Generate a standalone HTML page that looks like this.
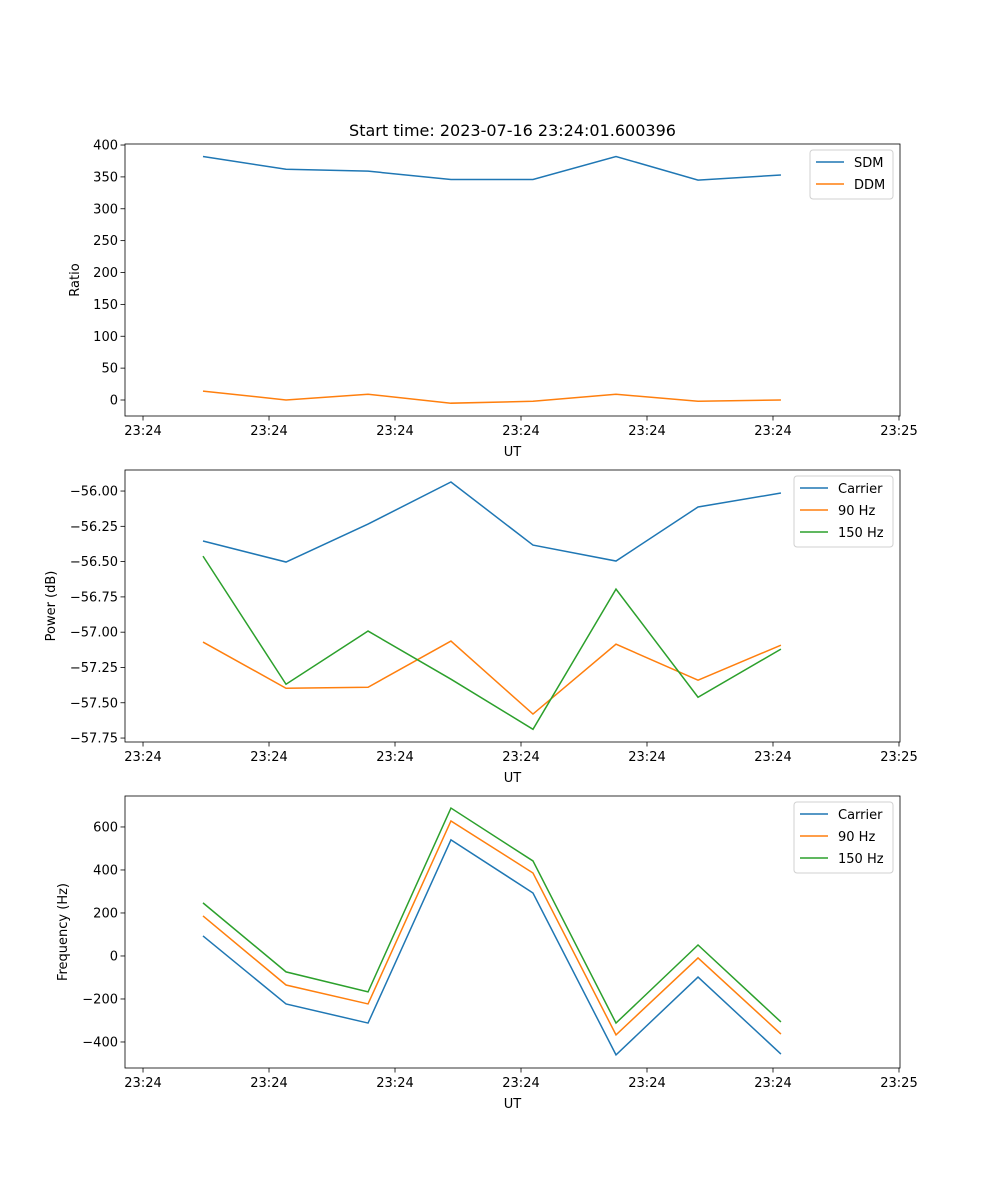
<!DOCTYPE html>
<html><head><meta charset="utf-8"><style>
html,body{margin:0;padding:0;background:#fff;}
svg{display:block;font-family:"DejaVu Sans","Liberation Sans",sans-serif;}
</style></head><body>
<svg id="fig" width="1000" height="1200" viewBox="0 0 1000 1200" xmlns="http://www.w3.org/2000/svg">
<rect width="1000" height="1200" fill="#fff"/>
<text x="512.5" y="136" font-size="16" text-anchor="middle">Start time: 2023-07-16 23:24:01.600396</text>
</svg>
<script>
// x values: seconds after 23:24:00
const times = [4.76, 11.35, 17.86, 24.44, 30.95, 37.54, 44.05, 50.63];
const xTickVals = [0, 10, 20, 30, 40, 50, 60];
const xTickLabels = ["23:24","23:24","23:24","23:24","23:24","23:24","23:25"];
const sdm = [382, 362, 359, 346, 346, 382, 345, 353];
const ddm = [14, 0, 9, -5, -2, 9, -2, 0];
const ratioTicks = [0, 50, 100, 150, 200, 250, 300, 350, 400];
const pCarrier = [-56.354, -56.503, -56.234, -55.936, -56.383, -56.496, -56.113, -56.014];
const p90 = [-57.07, -57.397, -57.39, -57.063, -57.58, -57.085, -57.34, -57.092];
const p150 = [-56.461, -57.369, -56.992, -57.333, -57.688, -56.695, -57.461, -57.12];
const powerTicks = [-56.00, -56.25, -56.50, -56.75, -57.00, -57.25, -57.50, -57.75];
const fCarrier = [93, -223, -312, 540, 293, -460, -98, -456];
const f90 = [186, -135, -223, 628, 386, -367, -9, -363];
const f150 = [247, -74, -167, 688, 442, -312, 51, -307];
const freqTicks = [-400, -200, 0, 200, 400, 600];

const NS = "http://www.w3.org/2000/svg";
const svg = document.getElementById('fig');
function mk(tag, attrs, parent){const e=document.createElementNS(NS,tag);for(const k in attrs)e.setAttribute(k,attrs[k]);(parent||svg).appendChild(e);return e;}
const X0=125,X1=900,XMIN=-1.43,XMAX=60.08;
const xs=v=>X0+(v-XMIN)/(XMAX-XMIN)*(X1-X0);
const C={blue:"#1f77b4",orange:"#ff7f0e",green:"#2ca02c"};

function panel(name, top, ymin, ymax, ticks, fmt, ylabel, ylabX, series, legend){
  const bot=top+272;
  const ys=v=>bot-(v-ymin)/(ymax-ymin)*272;
  const g=mk('g',{});
  
  
  series.forEach(s=>{
    const p=mk('polyline',{points:times.map((t,i)=>xs(t)+','+ys(s.vals[i])).join(' '),fill:'none',stroke:s.color,'stroke-width':1.5},g);
    
    
  });
  const fr=mk('rect',{x:X0,y:top,width:X1-X0,height:272,fill:'none',stroke:'#000','stroke-width':0.8},g);
  
  
  xTickVals.forEach((v,i)=>{
    const x=xs(v);
    mk('line',{x1:x,x2:x,y1:bot,y2:bot+4.5,stroke:'#000','stroke-width':0.8},g);
    const t=mk('text',{x:x,y:bot+19,'font-size':13,'text-anchor':'middle'},g);
    t.textContent=xTickLabels[i];
    
    
  });
  const xl=mk('text',{x:512.5,y:bot+40,'font-size':13,'text-anchor':'middle'},g);
  xl.textContent='UT';
  
  
  ticks.forEach(v=>{
    const y=ys(v);
    mk('line',{x1:X0-4.5,x2:X0,y1:y,y2:y,stroke:'#000','stroke-width':0.8},g);
    const t=mk('text',{x:X0-7,y:y+4.5,'font-size':13,'text-anchor':'end'},g);
    t.textContent=fmt(v);
    
    
  });
  const cy=top+136;
  const yl=mk('text',{x:ylabX,y:cy,'font-size':13,'text-anchor':'middle',transform:`rotate(-90 ${ylabX} ${cy})`},g);
  yl.textContent=ylabel;
  
  
  const lg=mk('g',{},g);
  
  
  mk('rect',{x:legend.x,y:top+6,width:legend.w,height:series.length*22+5,rx:3,fill:'#fff',stroke:'#ccc','stroke-width':1,opacity:0.9},lg);
  series.forEach((s,i)=>{
    const y=top+18+i*22;
    mk('line',{x1:legend.x+6,x2:legend.x+34,y1:y,y2:y,stroke:s.color,'stroke-width':1.5},lg);
    const t=mk('text',{x:legend.x+44,y:y+5,'font-size':13},lg);
    t.textContent=s.label;
    
    
  });
}
panel('ratio-panel',144,-25.1,401.6,ratioTicks,v=>String(v),'Ratio',79,
  [{id:'sdm-line',label:'SDM',vals:sdm,color:C.blue},{id:'ddm-line',label:'DDM',vals:ddm,color:C.orange}],{x:810,w:83});
panel('power-panel',470,-57.778,-55.851,powerTicks,v=>'\u2212'+Math.abs(v).toFixed(2),'Power (dB)',55,
  [{id:'power-carrier-line',label:'Carrier',vals:pCarrier,color:C.blue},{id:'power-90hz-line',label:'90 Hz',vals:p90,color:C.orange},{id:'power-150hz-line',label:'150 Hz',vals:p150,color:C.green}],{x:794,w:99});
panel('frequency-panel',796,-521,744,freqTicks,v=>(v<0?'\u2212':'')+Math.abs(v),'Frequency (Hz)',67,
  [{id:'freq-carrier-line',label:'Carrier',vals:fCarrier,color:C.blue},{id:'freq-90hz-line',label:'90 Hz',vals:f90,color:C.orange},{id:'freq-150hz-line',label:'150 Hz',vals:f150,color:C.green}],{x:794,w:99});
</script>
</body></html>
